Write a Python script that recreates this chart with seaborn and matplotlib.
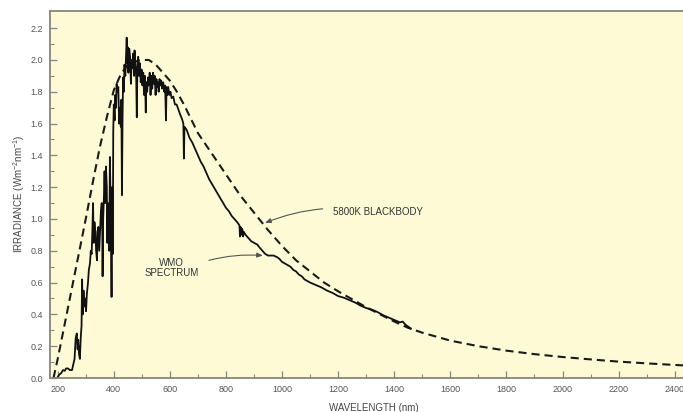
import matplotlib
matplotlib.use("Agg")
import matplotlib.pyplot as plt
import seaborn as sns
import numpy as np

# Measured solar spectrum (WMO), wavelength in nm and irradiance in W m^-2 nm^-1
wmo_wavelength = [
    190, 198, 205, 212, 219, 225, 230, 237, 243, 251, 255, 260, 264, 268, 271,
    273, 276, 279, 282, 285, 287, 289, 292, 295, 298, 301, 304, 308, 311, 315,
    318, 321, 324, 326, 328, 331, 334, 337, 340, 342, 345, 348, 351, 354, 357,
    359, 360, 362, 365, 367, 369, 372, 375, 377, 379, 382, 384, 386, 388, 390,
    392, 394, 396.5, 398, 400, 403, 405, 408, 410, 413, 416, 419, 422, 425, 427,
    429, 431, 433, 436, 438, 441, 444, 446, 448, 450, 452, 455, 458, 461, 463,
    466, 469, 472, 474, 477, 480, 482, 484, 487, 490, 493, 496, 499, 502, 505,
    508, 511, 514, 516, 519, 522, 525, 528, 531, 534, 537, 540, 543, 546, 549,
    552, 554, 557, 560, 563, 566, 569, 572, 576, 580, 583, 586, 588, 591, 594,
    598, 602, 606, 612, 618, 624, 630, 636, 643, 648, 650, 652, 660, 670, 680,
    690, 700, 710, 720, 730, 740, 750, 760, 770, 780, 790, 800, 810, 820, 830,
    840, 848, 850, 852, 854, 856, 859, 861, 863, 870, 880, 890, 900, 911, 920,
    930, 940, 950, 960, 970, 982, 990, 1000, 1010, 1020, 1030, 1040, 1050, 1060,
    1070, 1080, 1090, 1100, 1120, 1140, 1160, 1180, 1200, 1220, 1240, 1260, 1280,
    1300, 1320, 1340, 1360, 1380, 1400, 1420, 1430, 1440, 1460,
]
wmo_irradiance = [
    0.00, 0.00, 0.02, 0.03, 0.05, 0.045, 0.06, 0.06, 0.05, 0.05, 0.08, 0.12, 0.25, 0.28, 0.18,
    0.24, 0.15, 0.12, 0.25, 0.33, 0.62, 0.40, 0.55, 0.45, 0.50, 0.42, 0.53, 0.60, 0.68, 0.72,
    0.80, 0.78, 0.95, 1.10, 0.85, 0.98, 0.92, 0.80, 0.74, 0.92, 0.95, 0.80, 0.92, 1.05, 1.10,
    0.90, 0.64, 1.00, 1.15, 1.30, 1.10, 1.33, 1.20, 0.85, 1.10, 1.00, 0.80, 1.39, 1.15, 0.95,
    0.51, 1.20, 0.78, 1.55, 1.72, 1.62, 1.78, 1.70, 1.85, 1.80, 1.83, 1.60, 1.70, 1.58, 1.75,
    1.15, 1.60, 1.89, 1.80, 1.97, 1.90, 2.05, 2.14, 1.98, 2.08, 1.92, 2.07, 2.02, 1.85, 2.00,
    1.95, 2.04, 1.90, 2.06, 1.98, 1.88, 1.64, 1.95, 2.02, 1.90, 1.98, 1.86, 1.94, 1.84, 1.92,
    1.78, 1.90, 1.67, 1.86, 1.80, 1.89, 1.84, 1.92, 1.78, 1.90, 1.82, 1.92, 1.85, 1.90, 1.78,
    1.88, 1.83, 1.86, 1.80, 1.88, 1.84, 1.87, 1.82, 1.86, 1.80, 1.84, 1.62, 1.83, 1.78, 1.83,
    1.78, 1.80, 1.76, 1.77, 1.72, 1.72, 1.69, 1.66, 1.63, 1.60, 1.38, 1.58, 1.56, 1.51, 1.48,
    1.44, 1.40, 1.36, 1.33, 1.29, 1.25, 1.22, 1.19, 1.16, 1.13, 1.10, 1.07, 1.05, 1.02, 1.00,
    0.98, 0.96, 0.89, 0.95, 0.90, 0.94, 0.93, 0.89, 0.92, 0.90, 0.88, 0.86, 0.85, 0.84, 0.82,
    0.80, 0.78, 0.77, 0.77, 0.77, 0.76, 0.75, 0.73, 0.72, 0.71, 0.70, 0.68, 0.67, 0.65,
    0.64, 0.62, 0.61, 0.60, 0.585, 0.57, 0.55, 0.535, 0.515, 0.505, 0.49, 0.475, 0.455,
    0.44, 0.43, 0.415, 0.395, 0.38, 0.365, 0.35, 0.355, 0.335, 0.31,
]

# 5800 K blackbody curve, scaled to the solar spectrum
bb_wavelength = [
    185, 200, 225, 250, 275, 300, 325, 350, 375, 400, 425, 450, 475, 500, 525,
    550, 575, 600, 625, 650, 675, 700, 750, 800, 850, 900, 950, 1000, 1050, 1100,
    1150, 1200, 1250, 1300, 1350, 1400, 1450, 1500, 1600, 1700, 1800, 1900, 2000,
    2100, 2200, 2300, 2400, 2480,
]
bb_irradiance = [
    0.00, 0.12, 0.34, 0.56, 0.78, 1.00, 1.23, 1.45, 1.64, 1.81, 1.91, 1.97, 1.99, 2.00, 2.00,
    1.97, 1.92, 1.87, 1.80, 1.72, 1.63, 1.54, 1.41, 1.28, 1.15, 1.04, 0.93, 0.83, 0.74, 0.67,
    0.60, 0.545, 0.495, 0.445, 0.40, 0.355, 0.315, 0.285, 0.235, 0.20, 0.172, 0.15, 0.132,
    0.117, 0.103, 0.092, 0.082, 0.075,
]

x_major_ticks = list(range(200, 2401, 200))
y_major_ticks = [0.0, 0.2, 0.4, 0.6, 0.8, 1.0, 1.2, 1.4, 1.6, 1.8, 2.0, 2.2]

sns.set_style("ticks")
plt.rcParams["font.family"] = ["Liberation Sans", "DejaVu Sans"]
plt.rcParams["mathtext.fontset"] = "custom"
plt.rcParams["mathtext.rm"] = "Liberation Sans"
plt.rcParams["mathtext.it"] = "Liberation Sans"

W, H = 683, 412
fig = plt.figure(figsize=(W / 100, H / 100), dpi=100, facecolor="white")
ax = fig.add_axes([50 / W, 34 / H, 648 / W, 367 / H])
ax.set_facecolor("#FFFAD6")

sns.lineplot(x=bb_wavelength, y=bb_irradiance, ax=ax, color="#1a1a1a",
             lw=1.5, linestyle=(0, (3.9, 2.4)), estimator=None, sort=False)
sns.lineplot(x=wmo_wavelength, y=wmo_irradiance, ax=ax, color="#111111",
             lw=1.3, estimator=None, sort=False)

ax.set_xlim(172.5, 2483)
ax.set_ylim(0, 2.308)

ax.set_xticks(x_major_ticks)
ax.set_xticks(list(range(300, 2401, 200)), minor=True)
ax.set_yticks(y_major_ticks)
ax.set_yticks([v / 10 for v in range(1, 23, 2)], minor=True)
ax.set_xticklabels([str(v) for v in x_major_ticks])
ax.set_yticklabels([f"{v:.1f}" for v in y_major_ticks])

spine_color = "#86867c"
for side in ["left", "bottom", "top"]:
    ax.spines[side].set_color(spine_color)
    ax.spines[side].set_linewidth(1.3)
ax.spines["right"].set_visible(False)

ax.tick_params(axis="both", which="major", direction="in", length=5, width=0.9,
               color=spine_color, labelsize=6.5, labelcolor="#555555", pad=5)
ax.tick_params(axis="both", which="minor", direction="in", length=3, width=0.8,
               color=spine_color)

ax.set_ylabel(r"IRRADIANCE (Wm$^{-2}$nm$^{-1}$)", fontsize=7, color="#444444")
ax.yaxis.set_label_coords(-0.036, 0.5)
ax.set_xlabel("WAVELENGTH (nm)", fontsize=7, color="#444444")
ax.xaxis.set_label_coords(0.5, -0.068)

ax.annotate("5800K BLACKBODY", xy=(939, 0.975), xytext=(1181, 1.044),
            ha="left", va="center", fontsize=7, color="#333333",
            arrowprops=dict(arrowstyle="-|>,head_length=0.5,head_width=0.2",
                            color="#555555", lw=0.8, shrinkA=5, shrinkB=0,
                            connectionstyle="arc3,rad=0.15"))
ax.annotate("WMO\nSPECTRUM", xy=(932, 0.77), xytext=(607, 0.69),
            ha="center", va="center", multialignment="center", linespacing=1.0,
            fontsize=7, color="#333333",
            arrowprops=dict(arrowstyle="-|>,head_length=0.5,head_width=0.2",
                            color="#555555", lw=0.8, shrinkA=5, shrinkB=0,
                            relpos=(1.0, 0.75),
                            connectionstyle="arc3,rad=-0.1"))

fig.savefig("out.png", dpi=100, facecolor="white")
